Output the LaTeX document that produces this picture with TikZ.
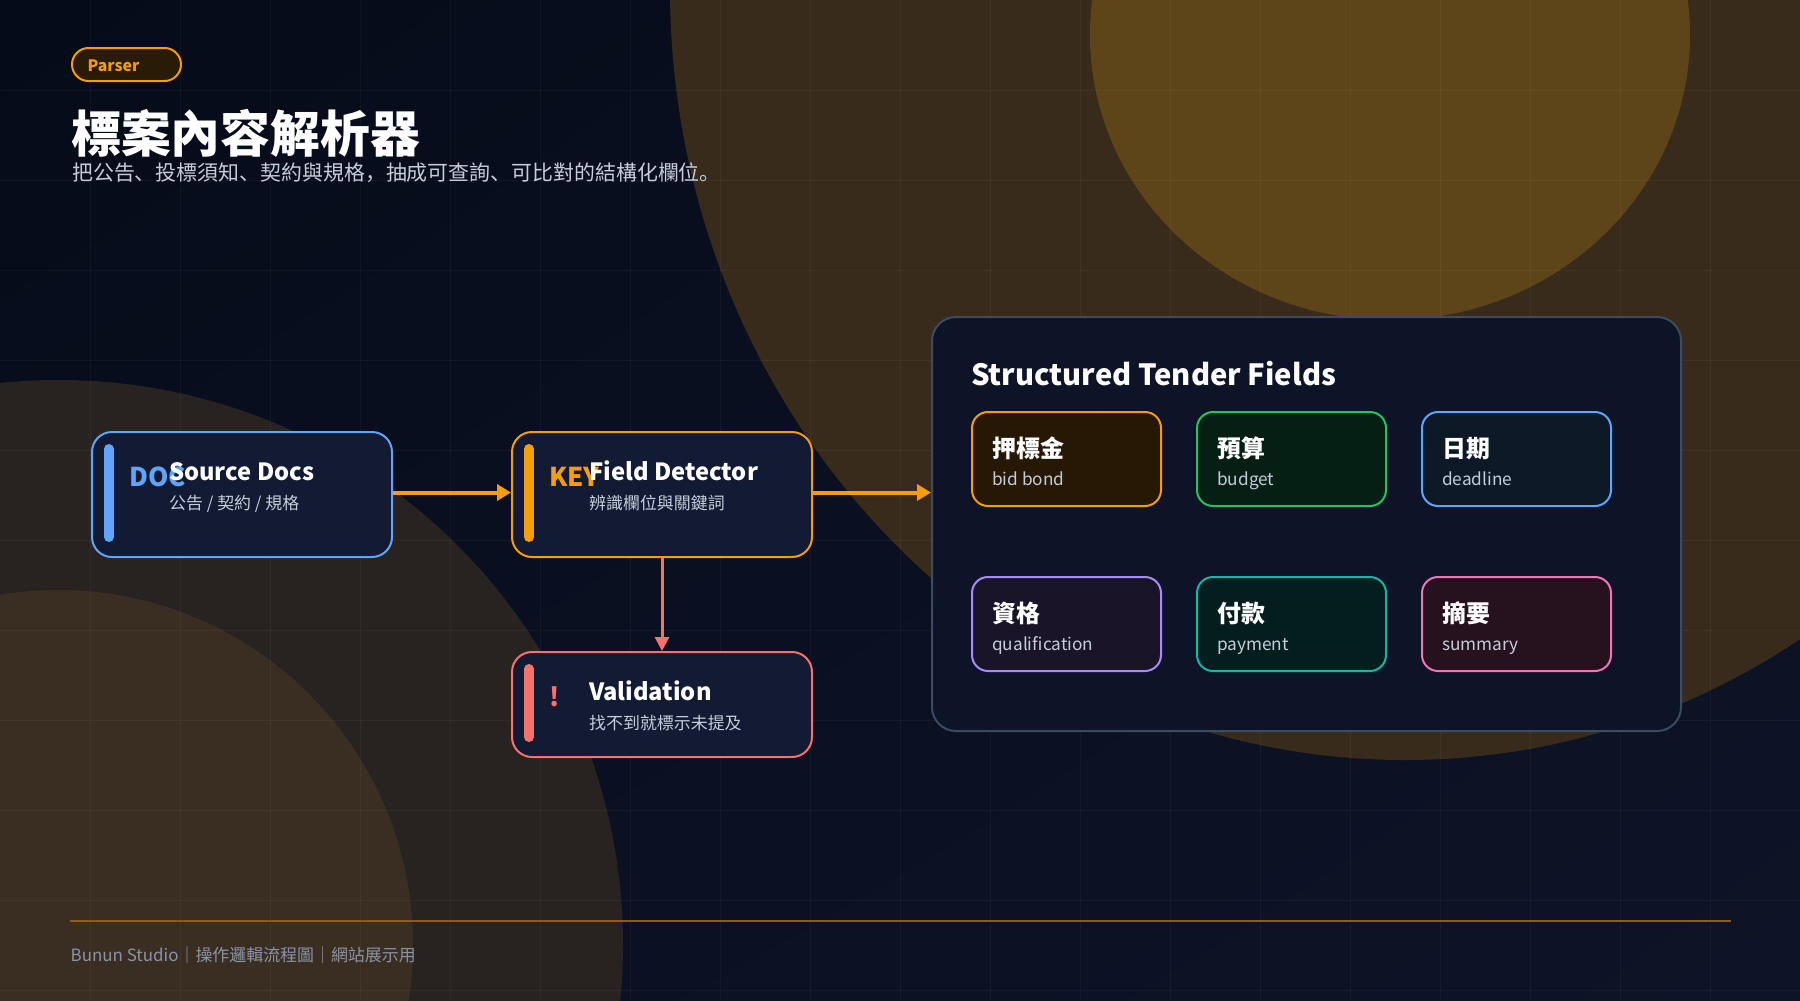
\documentclass[tikz,border=0pt]{standalone}
\usepackage{fontspec}
\setmainfont{Noto Sans CJK SC}
\usetikzlibrary{arrows.meta,shadings}

\definecolor{bgtl}{HTML}{060B19}
\definecolor{bgtr}{HTML}{0A1122}
\definecolor{bgbl}{HTML}{0A1021}
\definecolor{bgbr}{HTML}{0D1427}
\definecolor{glowdim}{HTML}{382B1C}
\definecolor{glowhot}{HTML}{5E4419}
\definecolor{glowlow}{HTML}{282320}
\definecolor{glowmid}{HTML}{3A2E22}
\definecolor{amber}{HTML}{F59E0B}
\definecolor{skyblue}{HTML}{60A5FA}
\definecolor{coral}{HTML}{F87171}
\definecolor{leaf}{HTML}{22C55E}
\definecolor{lilac}{HTML}{A78BFA}
\definecolor{teal}{HTML}{14B8A6}
\definecolor{rose}{HTML}{F472B6}
\definecolor{boxfill}{HTML}{131A33}
\definecolor{panelfill}{HTML}{0D1428}
\definecolor{panelline}{HTML}{3D4A60}
\definecolor{badgefill}{HTML}{2A1B06}
\definecolor{subgrey}{HTML}{C6CDDA}
\definecolor{footgrey}{HTML}{8A93A6}
\definecolor{footline}{HTML}{925C0C}
\definecolor{bondfill}{HTML}{261805}
\definecolor{budgetfill}{HTML}{061F14}
\definecolor{deadlinefill}{HTML}{0D1926}
\definecolor{qualfill}{HTML}{191428}
\definecolor{paymentfill}{HTML}{031E1C}
\definecolor{summaryfill}{HTML}{26111E}

\tikzset{
	gridline/.style={white, opacity=0.04, line width=1bp},
	flowbox/.style={draw, line width=2bp, rounded corners=20bp, fill=boxfill, anchor=north west, minimum width=300bp, inner sep=0pt},
	sidebar/.style={line width=10bp, line cap=round},
	fieldcard/.style={draw, line width=2bp, rounded corners=16bp, anchor=north west, minimum width=189bp, minimum height=94bp, inner sep=0pt},
	boxhead/.style={anchor=base west, inner sep=0pt, text=white, font=\bfseries\fontsize{23.8}{28}\selectfont},
	boxsub/.style={anchor=base west, inner sep=0pt, text=subgrey, font=\fontsize{17}{20}\selectfont},
	boxtag/.style={anchor=base west, inner sep=0pt, font=\bfseries\fontsize{26}{30}\selectfont},
	cardhead/.style={anchor=base west, inner sep=0pt, text=white, font=\bfseries\fontsize{24}{28}\selectfont},
	cardsub/.style={anchor=base west, inner sep=0pt, text=subgrey, font=\fontsize{17.3}{21}\selectfont},
	flowarrow/.style={line width=4bp, amber, -{Triangle[length=14bp,width=16bp]}},
}

\begin{document}
\begin{tikzpicture}[x=1bp, y=-1bp, line join=round]
	\useasboundingbox (0,0) rectangle (1800,1000);
	% background and glow
	\shade[upper left=bgtl, upper right=bgtr, lower left=bgbl, lower right=bgbr] (0,0) rectangle (1800,1000);
	\fill[glowdim] (1405,-12) ellipse [x radius=735bp, y radius=772bp];
	\fill[glowhot] (1390,35) ellipse [x radius=300bp, y radius=285bp];
	\fill[glowlow] (58,945) circle [radius=565bp];
	\fill[glowmid] (58,945) circle [radius=355bp];
	\foreach \gx in {90,180,...,1710} \draw[gridline] (\gx,0) -- (\gx,1000);
	\foreach \gy in {90,180,...,990} \draw[gridline] (0,\gy) -- (1800,\gy);

	% header
	\node[draw=amber, fill=badgefill, line width=2bp, rounded corners=16.5bp, anchor=north west,
		minimum width=109bp, minimum height=33bp, inner sep=0pt] (badge) at (71,47) {};
	\node[anchor=base west, inner sep=0pt, text=amber, font=\bfseries\fontsize{15.8}{20}\selectfont] (badgetxt) at (87.5,71) {Parser};
	\node[anchor=base west, inner sep=0pt, text=white, font=\bfseries\fontsize{50}{56}\selectfont] (title) at (71,152.5) {標案內容解析器};
	\node[anchor=base west, inner sep=0pt, text=subgrey, font=\fontsize{21}{24}\selectfont] (subtitle) at (72,180.5)
		{把公告、投標須知、契約與規格，抽成可查詢、可比對的結構化欄位。};

	% flow boxes
	\node[flowbox, draw=skyblue, minimum height=125bp] (src) at (91,431) {};
	\node[flowbox, draw=amber, minimum height=125bp] (det) at (511,431) {};
	\node[flowbox, draw=coral, minimum height=105bp] (val) at (511,651) {};
	\draw[sidebar, skyblue] (109,449) -- (109,537);
	\draw[sidebar, amber] (529,449) -- (529,537);
	\draw[sidebar, coral] (529,669) -- (529,737);
	\node[boxtag, text=skyblue] (srctag) at (129,486) {DOC};
	\node[boxhead] (srchead) at (169,480) {Source Docs};
	\node[boxsub] (srcsub) at (169,509) {公告 / 契約 / 規格};
	\node[boxtag, text=amber] (dettag) at (549,486) {KEY};
	\node[boxhead] (dethead) at (589,480) {Field Detector};
	\node[boxsub] (detsub) at (589,509) {辨識欄位與關鍵詞};
	\node[boxtag, text=coral] (valtag) at (549,706) {!};
	\node[boxhead] (valhead) at (589,700) {Validation};
	\node[boxsub] (valsub) at (589,729) {找不到就標示未提及};

	% result panel
	\node[draw=panelline, fill=panelfill, line width=2bp, rounded corners=24bp, anchor=north west,
		minimum width=749bp, minimum height=414bp, inner sep=0pt] (fields) at (931,316) {};
	\node[anchor=base west, inner sep=0pt, text=white, font=\bfseries\fontsize{29.3}{35}\selectfont] (fieldshead) at (971,385)
		{Structured Tender Fields};
	\node[fieldcard, draw=amber, fill=bondfill] (bond) at (971,411) {};
	\node[fieldcard, draw=leaf, fill=budgetfill] (budget) at (1196,411) {};
	\node[fieldcard, draw=skyblue, fill=deadlinefill] (deadline) at (1421,411) {};
	\node[fieldcard, draw=lilac, fill=qualfill] (qual) at (971,576) {};
	\node[fieldcard, draw=teal, fill=paymentfill] (payment) at (1196,576) {};
	\node[fieldcard, draw=rose, fill=summaryfill] (summary) at (1421,576) {};
	\node[cardhead] (bondhead) at (992,457) {押標金};
	\node[cardsub] (bondsub) at (992,485) {bid bond};
	\node[cardhead] (budgethead) at (1217,457) {預算};
	\node[cardsub] (budgetsub) at (1217,485) {budget};
	\node[cardhead] (deadlinehead) at (1442,457) {日期};
	\node[cardsub] (deadlinesub) at (1442,485) {deadline};
	\node[cardhead] (qualhead) at (992,622) {資格};
	\node[cardsub] (qualsub) at (992,650) {qualification};
	\node[cardhead] (paymenthead) at (1217,622) {付款};
	\node[cardsub] (paymentsub) at (1217,650) {payment};
	\node[cardhead] (summaryhead) at (1442,622) {摘要};
	\node[cardsub] (summarysub) at (1442,650) {summary};

	% connectors
	\draw[flowarrow] ([yshift=2bp]src.east) -- ([yshift=2bp]det.west);
	\draw[flowarrow] ([yshift=2bp]det.east) -- ([yshift=2bp]det.east -| fields.west);
	\draw[line width=3bp, coral, -{Triangle[length=14bp,width=14bp]}] (det.south) -- (val.north);

	% footer
	\coordinate (footl) at (70,921);
	\coordinate (footr) at (1731,921);
	\draw[footline, line width=2bp] (footl) -- (footr);
	\node[anchor=base west, inner sep=0pt, text=footgrey, font=\fontsize{17}{21}\selectfont] (foot) at (70.5,961)
		{Bunun Studio｜操作邏輯流程圖｜網站展示用};
\end{tikzpicture}
\end{document}
